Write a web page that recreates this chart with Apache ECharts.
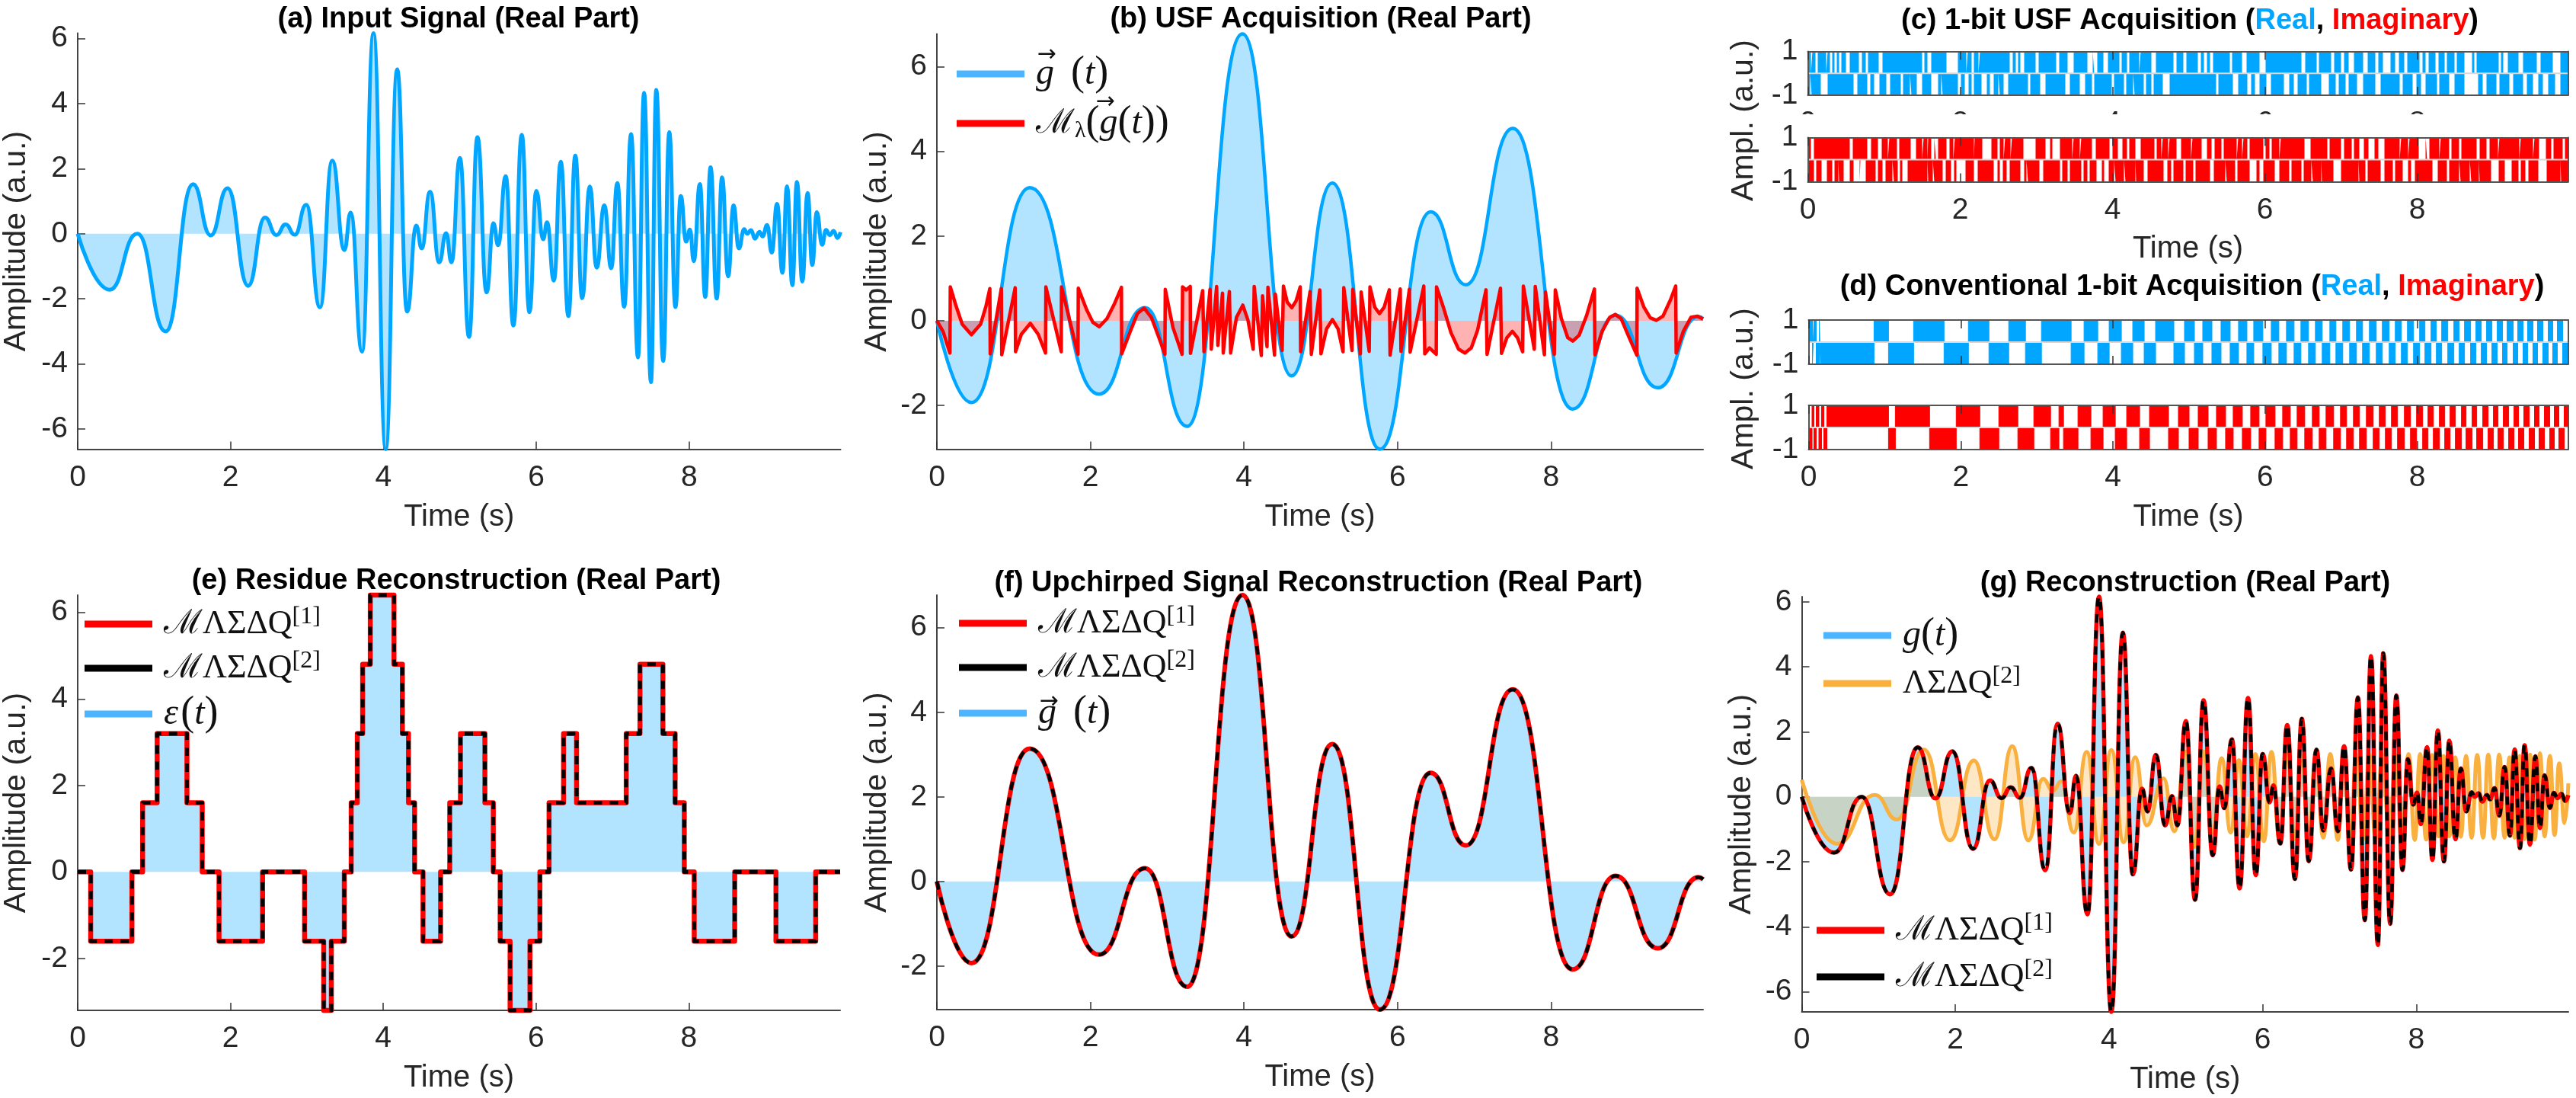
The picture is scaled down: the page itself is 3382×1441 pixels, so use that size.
<!DOCTYPE html>
<html>
<head>
<meta charset="utf-8">
<title>USF acquisition</title>
<style>html,body{margin:0;padding:0;background:#fff}#chart{width:3382px;height:1441px}</style>
<script src="https://cdn.jsdelivr.net/npm/echarts@6/dist/echarts.min.js"></script>
</head>
<body>
<div id="chart"></div>
<script>
var tickTimes = [0,2,4,6,8];
var endTime = 9.98;
var ticksWide = [-6,-4,-2,0,2,4,6];
var ticksUpchirp = [-2,0,2,4,6];
var ticksStrip = [-1,1];

//(a) and (g): input signal, extrema
var inputSignal = [[0,0],[.42,-1.72],[.78,0],[1.15,-3],[1.51,1.52],[1.74,-.05],[1.96,1.4],[2.23,-1.6],[2.45,.5],[2.6,-.04],[2.72,.29],[2.84,-.03],[2.99,.89],[3.17,-2.26],[3.33,2.25],[3.49,-.5],[3.57,.65],[3.72,-3.62],[3.87,6.16],[4.03,-6.62],[4.18,5.05],[4.31,-2.39],[4.43,.25],[4.5,-.45],[4.61,1.29],[4.73,-.88],[4.82,.02],[4.89,-.88],[5,2.33],[5.12,-3.17],[5.23,2.97],[5.35,-1.8],[5.44,.32],[5.5,-.35],[5.6,1.77],[5.7,-2.82],[5.81,3.04],[5.91,-2.41],[6,1.32],[6.09,-.17],[6.14,.35],[6.23,-1.44],[6.32,2.21],[6.42,-2.53],[6.51,2.4],[6.6,-1.98],[6.7,1.45],[6.79,-1.04],[6.89,.87],[6.98,-1.06],[7.06,1.56],[7.15,-2.24],[7.24,3.06],[7.33,-3.8],[7.41,4.33],[7.5,-4.56],[7.57,4.42],[7.66,-3.91],[7.74,3.12],[7.82,-2.25],[7.89,1.16],[7.96,-.24],[8.01,.13],[8.06,-.84],[8.14,1.53],[8.21,-1.94],[8.28,2.04],[8.36,-1.99],[8.43,1.73],[8.51,-1.31],[8.58,.87],[8.65,-.45],[8.72,.14],[8.76,0],[8.81,.11],[8.86,-.15],[8.92,.06],[8.96,-.08],[9.02,.27],[9.08,-.58],[9.15,.92],[9.22,-1.2],[9.28,1.46],[9.35,-1.58],[9.41,1.59],[9.48,-1.47],[9.55,1.25],[9.61,-.96],[9.67,.66],[9.74,-.34],[9.79,.12],[9.84,-.04],[9.89,.09],[9.94,-.13],[9.98,.05]];

//(b) and (f): upchirped signal
var upchirped = [[0,0],[.45,-1.93],[1.21,3.14],[2.11,-1.73],[2.71,.31],[3.26,-2.49],[3.98,6.77],[4.62,-1.3],[5.15,3.25],[5.77,-3.03],[6.43,2.57],[6.89,.85],[7.5,4.54],[8.28,-2.08],[8.84,.13],[9.39,-1.58],[9.92,.1],[9.98,.05]];

//(b): modulo samples
var folded = [[0,0],[.08,-.25],[.17,-.76],[.175,.8],[.25,.35],[.33,-.08],[.45,-.33],[.57,-.08],[.64,.35],[.69,.76],[.695,-.78],[.84,.76],[.845,-.8],[1.02,.78],[1.025,-.73],[1.1,-.32],[1.217,-.06],[1.32,-.32],[1.415,-.76],[1.42,.8],[1.62,-.73],[1.623,.8],[1.838,-.79],[1.842,.77],[1.951,.26],[2.033,-.04],[2.116,-.14],[2.215,.05],[2.315,.41],[2.404,.79],[2.407,-.78],[2.513,-.28],[2.612,.17],[2.7,.3],[2.794,.08],[2.893,-.4],[2.97,-.79],[2.975,.74],[3.075,-.16],[3.194,-.79],[3.2,.8],[3.247,.73],[3.3,.81],[3.303,-.77],[3.462,.71],[3.479,-.73],[3.558,.74],[3.574,-.67],[3.644,.81],[3.66,-.58],[3.72,.65],[3.73,-.76],[3.81,.69],[3.826,-.76],[3.902,.08],[3.985,.37],[4.051,.02],[4.12,-.67],[4.133,.81],[4.226,-.82],[4.242,.59],[4.3,-.61],[4.312,.79],[4.398,-.81],[4.408,.63],[4.497,-.7],[4.514,.82],[4.563,.44],[4.623,.31],[4.679,.47],[4.732,.8],[4.738,-.73],[4.861,.69],[4.877,-.79],[4.987,.73],[5.003,-.78],[5.076,-.19],[5.152,.03],[5.225,-.19],[5.29,-.73],[5.3,.78],[5.407,-.7],[5.417,.74],[5.516,-.78],[5.526,.68],[5.631,-.72],[5.641,.8],[5.704,.32],[5.764,.17],[5.826,.32],[5.893,.73],[5.903,-.81],[6.035,.75],[6.045,-.72],[6.154,.74],[6.164,-.74],[6.342,.82],[6.355,-.78],[6.415,-.64],[6.504,-.79],[6.508,.8],[6.597,.32],[6.696,-.28],[6.795,-.67],[6.878,-.76],[6.961,-.64],[7.043,-.22],[7.152,.73],[7.166,-.79],[7.341,.77],[7.354,-.77],[7.424,-.4],[7.496,-.25],[7.562,-.4],[7.629,-.73],[7.639,.82],[7.781,-.67],[7.794,.81],[7.913,-.8],[7.926,.68],[8.042,-.79],[8.055,.73],[8.134,.05],[8.217,-.4],[8.283,-.48],[8.366,-.34],[8.465,.14],[8.564,.75],[8.571,-.8],[8.664,-.25],[8.763,.08],[8.836,.15],[8.912,.05],[9.011,-.37],[9.117,-.81],[9.12,.77],[9.209,.32],[9.292,.07],[9.371,.01],[9.457,.11],[9.556,.5],[9.623,.82],[9.629,-.76],[9.722,-.25],[9.821,.08],[9.904,.11],[9.98,.04]];

//(e): residue steps, value holds from that time on
var residue = [[0,0],[.17,-1.6],[.71,0],[.85,1.6],[1.04,3.2],[1.43,1.6],[1.63,0],[1.85,-1.6],[2.42,0],[2.97,-1.6],[3.22,-3.2],[3.32,-1.6],[3.49,0],[3.58,1.6],[3.66,3.2],[3.73,4.8],[3.83,6.4],[4.14,4.8],[4.25,3.2],[4.33,1.6],[4.41,0],[4.52,-1.6],[4.75,0],[4.87,1.6],[5.01,3.2],[5.33,1.6],[5.44,0],[5.53,-1.6],[5.66,-3.2],[5.92,-1.6],[6.05,0],[6.17,1.6],[6.36,3.2],[6.53,1.6],[7.18,3.2],[7.36,4.8],[7.66,3.2],[7.82,1.6],[7.94,0],[8.07,-1.6],[8.6,0],[9.14,-1.6],[9.66,0],[9.98,0]];

//(g): first-order reconstruction
var sigmaDelta = [[0,.52],[.46,-1.45],[.95,.06],[1.24,-.7],[1.59,1.45],[1.93,-1.34],[2.24,1.12],[2.51,-1.31],[2.74,1.56],[2.95,-1.34],[3.14,.55],[3.27,.19],[3.38,.48],[3.54,-1.1],[3.71,1.38],[3.87,-1.45],[4.03,1.44],[4.19,-1.4],[4.34,1.22],[4.49,-.88],[4.71,.57],[4.85,-1.06],[5,1.4],[5.11,-1.55],[5.23,1.4],[5.35,-1.1],[5.466,1.19],[5.584,-1.1],[5.691,1.13],[5.795,-1.22],[5.906,1.32],[6.014,-1.37],[6.115,1.38],[6.22,-1.3],[6.32,1.3],[6.42,-1.3],[6.51,1.25],[6.6,-1.3],[6.69,1.25],[6.79,-1.26],[6.88,1.32],[6.98,-1.33],[7.05,1.3],[7.14,-1.3],[7.22,1.3],[7.31,-1.3],[7.39,1.3],[7.47,-1.3],[7.56,1.3],[7.65,-1.3],[7.73,1.3],[7.81,-1.3],[7.9,1.32],[7.98,-1.33],[8.05,1.32],[8.13,-1.32],[8.205,1.29],[8.29,-1.22],[8.356,1.26],[8.43,-1.22],[8.507,1.22],[8.58,-1.23],[8.648,1.26],[8.72,-1.26],[8.793,1.29],[8.87,-1.26],[8.937,1.3],[9.01,-1.28],[9.079,1.3],[9.15,-1.26],[9.213,1.22],[9.28,-1.26],[9.347,1.26],[9.41,-1.3],[9.482,1.3],[9.54,-1.32],[9.61,1.34],[9.67,-1.22],[9.74,1.26],[9.8,-1.18],[9.86,1.03],[9.93,-.81],[9.98,.41]];

//(c): white gaps per row, start,end pairs
var gapsRealTop = [.04,.06,.10,.13,.24,.26,.29,.32,.35,.38,.41,.44,.50,.55,.67,.71,.76,.79,.93,.98,1.50,1.53,1.57,1.62,1.82,1.97,2.08,2.10,2.15,2.18,2.24,2.26,2.65,2.69,2.73,2.76,2.79,2.84,2.99,3.03,3.26,3.30,3.41,3.49,3.67,3.74,3.76,3.80,3.88,3.94,4.09,4.12,4.19,4.22,4.35,4.37,4.51,4.57,4.80,4.84,4.93,4.97,5.12,5.16,5.20,5.24,5.28,5.32,5.54,5.57,5.70,5.76,5.93,6.01,6.48,6.53,6.68,6.71,6.87,6.91,7.00,7.04,7.10,7.17,7.29,7.35,7.45,7.49,7.55,7.65,7.71,7.76,7.83,7.87,8.03,8.07,8.11,8.15,8.24,8.28,8.36,8.39,8.49,8.52,8.62,8.72,8.75,8.78,9.07,9.10,9.13,9.19,9.33,9.39,9.57,9.62,9.78,9.88];
var gapsRealBottom = [.03,.05,.17,.26,.60,.65,.78,.82,.87,.94,1.03,1.08,1.22,1.25,1.34,1.36,1.43,1.50,1.62,1.71,1.75,1.77,1.97,2.01,2.06,2.11,2.15,2.18,2.28,2.35,2.39,2.44,2.50,2.52,2.57,2.63,2.89,2.92,3.05,3.12,3.38,3.44,3.57,3.64,3.73,3.76,3.99,4.02,4.15,4.18,4.27,4.29,4.41,4.44,4.51,4.54,4.66,4.75,5.36,5.39,5.58,5.65,5.77,5.82,5.87,5.93,6.02,6.08,6.25,6.32,6.38,6.43,6.55,6.58,6.74,6.84,6.93,6.97,7.06,7.10,7.21,7.29,7.45,7.52,7.77,7.81,7.94,7.99,8.05,8.11,8.26,8.29,8.42,8.49,8.62,8.80,8.86,8.91,9.04,9.08,9.21,9.26,9.39,9.44,9.52,9.59,9.65,9.72,9.81,9.88];
var gapsImagTop = [.04,.08,.55,.59,.78,.83,.92,.97,1.05,1.07,1.17,1.20,1.35,1.42,1.50,1.52,1.57,1.58,1.62,1.66,1.68,1.71,1.82,1.86,1.91,1.93,2.18,2.19,2.29,2.41,2.49,2.52,2.57,2.59,2.66,2.68,2.83,2.99,3.12,3.18,3.21,3.31,3.47,3.49,3.57,3.59,3.73,3.78,3.96,4.00,4.07,4.13,4.19,4.22,4.30,4.37,4.55,4.58,4.64,4.66,4.73,4.75,4.84,4.90,5.03,5.05,5.17,5.24,5.30,5.34,5.43,5.46,5.63,5.65,5.70,5.72,5.77,5.80,5.98,6.01,6.06,6.09,6.19,6.21,6.52,6.60,6.82,6.85,7.00,7.04,7.14,7.17,7.24,7.30,7.36,7.44,7.49,7.57,7.77,7.79,7.88,7.90,8.02,8.11,8.13,8.16,8.29,8.31,8.42,8.45,8.55,8.58,8.78,8.82,8.91,8.95,9.06,9.08,9.34,9.36,9.52,9.54,9.60,9.69,9.76,9.79,9.91,9.94];
var gapsImagBottom = [.08,.11,.18,.25,.32,.35,.40,.41,.47,.55,.60,.68,.69,.76,.89,.92,.98,1.02,1.11,1.13,1.18,1.21,1.24,1.31,1.57,1.58,1.64,1.66,1.77,1.81,1.88,1.92,1.95,2.07,2.18,2.23,2.44,2.49,2.52,2.56,2.61,2.65,2.79,2.84,2.87,2.89,3.04,3.09,3.31,3.34,3.41,3.44,3.59,3.62,3.67,3.70,3.79,3.86,3.89,3.95,4.02,4.04,4.15,4.17,4.30,4.31,4.41,4.46,4.67,4.72,4.77,4.80,4.93,4.96,5.06,5.09,5.28,5.33,5.48,5.50,5.61,5.64,5.80,5.89,5.93,5.98,6.13,6.19,6.32,6.35,6.48,6.51,6.61,6.63,6.74,6.75,6.90,7.00,7.23,7.24,7.32,7.35,7.52,7.57,7.68,7.71,7.81,7.88,7.92,7.97,8.20,8.27,8.39,8.42,8.55,8.57,8.69,8.71,8.81,8.82,8.97,9.07,9.15,9.24,9.33,9.36,9.42,9.46,9.59,9.70,9.88,9.89];

//(d): times where the sign flips, both start at +1
var flipsReal = [.05,.07,.10,.14,.155,.86,1.05,1.38,1.78,2.10,2.37,2.63,2.85,3.06,3.45,3.62,3.80,3.95,4.11,4.26,4.41,4.56,4.80,4.94,5.07,5.18,5.30,5.42,5.54,5.65,5.76,5.85,5.97,6.08,6.18,6.28,6.38,6.47,6.57,6.66,6.75,6.85,6.93,7.02,7.11,7.20,7.28,7.37,7.46,7.54,7.63,7.71,7.79,7.87,7.95,8.03,8.10,8.18,8.25,8.32,8.40,8.48,8.55,8.62,8.70,8.77,8.84,8.91,8.98,9.05,9.12,9.18,9.26,9.32,9.39,9.45,9.52,9.58,9.65,9.72,9.78,9.84,9.91];
var flipsImag = [.02,.045,.07,.10,.135,.17,.20,.24,1.05,1.14,1.59,1.94,2.25,2.50,2.75,2.96,3.18,3.29,3.35,3.54,3.71,3.87,4.03,4.18,4.35,4.48,4.73,4.86,5.0,5.12,5.25,5.36,5.48,5.58,5.70,5.81,5.92,6.01,6.13,6.23,6.33,6.42,6.52,6.62,6.71,6.80,6.90,6.99,7.07,7.16,7.24,7.33,7.42,7.50,7.58,7.66,7.74,7.83,7.91,7.99,8.07,8.14,8.21,8.29,8.36,8.43,8.50,8.58,8.64,8.72,8.78,8.86,8.93,9.0,9.06,9.13,9.20,9.27,9.33,9.40,9.47,9.54,9.60,9.67,9.74,9.80,9.86,9.93];

var BLUE = '#00A6FF', RED = '#FF0000', BLACK = '#000000', ORANGE = '#F9B03F', SWATCH_BLUE = '#4DB5FF';
var TEXT = '#262626';
var SANS = 'Liberation Sans';
var DASH = [11,10];
var TITLE_SIZE = 38;

var legendLabels = {
    bG: '{i|g}{n|  }{p|(}{i|t}{p|)}',
    bM: '{n|\u2133}{l|\u03BB}{p|(}{i|g}{p|(}{i|t}{p|))}',
    eRed: '{n|\u2133\u039B\u03A3\u0394Q}{s|[1]}',
    eBlack: '{n|\u2133\u039B\u03A3\u0394Q}{s|[2]}',
    eBlue: '{i|\u03B5} {p|(}{i|t}{p|)}',
    fRed: '{n|\u2133\u039B\u03A3\u0394Q}{s|[1]}',
    fBlack: '{n|\u2133\u039B\u03A3\u0394Q}{s|[2]}',
    fBlue: '{i|g}{n|  }{p|(}{i|t}{p|)}',
    gBlue: '{i|g}{p|(}{i|t}{p|)}',
    gOrange: '{n|\u039B\u03A3\u0394Q}{s|[2]}',
    gRed: '{n|\u2133\u039B\u03A3\u0394Q}{s|[1]}',
    gBlack: '{n|\u2133\u039B\u03A3\u0394Q}{s|[2]}'
};

var option = {
    animation: false,
    backgroundColor: '#fff',
    title: [],
    grid: [],
    xAxis: [],
    yAxis: [],
    series: [],
    legend: [],
    graphic: []
};

function addTitle(text, x, y, rich) {
    option.title.push({
        text: text,
        left: x,
        top: y,
        textAlign: 'center',
        textVerticalAlign: 'middle',
        textStyle: {fontFamily: SANS, fontWeight: 'bold', fontSize: TITLE_SIZE, color: '#000', rich: rich}
    });
}

//网格和坐标轴
function addAxes(box, opt) {
    var gridIndex = option.grid.length;
    option.grid.push({left: box[0], top: box[1], width: box[2], height: box[3], show: false});
    var axisZ = opt.boxed ? 5 : 0;
    var lineStyle = {color: opt.boxed ? '#555' : '#444', width: 2};
    var tickStyle = {color: '#333', width: 1.5};
    var xIndex = option.xAxis.length, yIndex = option.yAxis.length;
    option.xAxis.push({
        gridIndex: gridIndex, type: 'value', min: 0, max: endTime, z: axisZ,
        name: opt.xName || '', nameLocation: 'middle', nameGap: 69,
        nameTextStyle: {fontFamily: SANS, fontSize: 40, color: TEXT},
        axisLine: {show: true, onZero: false, lineStyle: lineStyle},
        axisTick: {show: true, inside: true, length: opt.boxed ? 11 : 10, lineStyle: tickStyle, customValues: tickTimes},
        axisLabel: {show: opt.showX, margin: 18, fontFamily: SANS, fontSize: 39, color: TEXT, customValues: tickTimes},
        splitLine: {show: false}
    });
    option.yAxis.push({
        gridIndex: gridIndex, type: 'value', min: opt.yMin, max: opt.yMax, z: axisZ,
        name: opt.yName || '', nameLocation: 'middle', nameGap: opt.yGap || 60,
        nameTextStyle: {fontFamily: SANS, fontSize: 41, color: TEXT},
        axisLine: {show: true, onZero: false, lineStyle: lineStyle},
        axisTick: {show: !opt.boxed, inside: true, length: 10, lineStyle: tickStyle, customValues: opt.yTicks},
        axisLabel: {show: true, margin: 13, fontFamily: SANS, fontSize: 39, color: TEXT, customValues: opt.yTicks},
        splitLine: {show: false}
    });
    if (opt.boxed) {
        option.xAxis.push({
            gridIndex: gridIndex, type: 'value', position: 'top', min: 0, max: endTime, z: axisZ,
            axisLine: {show: true, onZero: false, lineStyle: lineStyle},
            axisTick: {show: true, inside: true, length: 11, lineStyle: tickStyle, customValues: tickTimes},
            axisLabel: {show: false},
            splitLine: {show: false}
        });
        option.yAxis.push({
            gridIndex: gridIndex, type: 'value', position: 'right', min: opt.yMin, max: opt.yMax, z: axisZ,
            axisLine: {show: true, onZero: false, lineStyle: lineStyle},
            axisTick: {show: false},
            axisLabel: {show: false},
            splitLine: {show: false}
        });
    }
    return {x: xIndex, y: yIndex};
}

function addLine(axes, name, data, style) {
    var s = {
        name: name, type: 'line', data: data, xAxisIndex: axes.x, yAxisIndex: axes.y,
        showSymbol: false, symbol: 'none', silent: true, clip: false, z: style.z || 2,
        lineStyle: {color: style.color, width: style.width || 4, type: style.dash || 'solid', join: 'round'},
        itemStyle: {color: style.color}
    };
    if (style.smooth) {
        s.smooth = 0.5;
        s.smoothMonotone = 'x';
    }
    if (style.step) {
        s.step = 'end';
    }
    if (style.area) {
        s.areaStyle = {color: style.area, opacity: style.areaOpacity === undefined ? 0.3 : style.areaOpacity};
    }
    option.series.push(s);
}

function addLegend(left, top, items, gap) {
    var names = [];
    for (var i = 0; i < items.length; i++) {
        names.push({name: items[i][0], itemStyle: {color: items[i][1], borderWidth: 0}, icon: 'rect'});
    }
    option.legend.push({
        left: left, top: top, orient: 'vertical', data: names, selectedMode: false,
        itemWidth: 89, itemHeight: 9, itemGap: gap, align: 'left',
        formatter: function (n) { return legendLabels[n]; },
        textStyle: {
            padding: [0, 0, 0, 10],
            rich: {
                n: {fontFamily: 'Liberation Serif', fontSize: 44, lineHeight: 50, color: '#111'},
                p: {fontFamily: 'Liberation Serif', fontSize: 54, lineHeight: 50, color: '#111'},
                i: {fontFamily: 'Liberation Serif', fontStyle: 'italic', fontSize: 48, lineHeight: 50, color: '#111'},
                l: {fontFamily: 'Liberation Serif', fontSize: 30, lineHeight: 50, verticalAlign: 'bottom', color: '#111'},
                s: {fontFamily: 'Liberation Serif', fontSize: 32, lineHeight: 50, verticalAlign: 'top', color: '#111'}
            }
        }
    });
}

//向量箭头盖在图例的 g 上面
function addVectorArrow(x, y) {
    option.graphic.push({
        type: 'text', x: x, y: y, silent: true, z: 20,
        style: {text: '\u2192', fontFamily: 'DejaVu Sans', fontSize: 30, fill: '#111', align: 'center', verticalAlign: 'middle'}
    });
}

//白色间隙转成一行折线
function rowFromGaps(gaps, level) {
    var pts = [[0, level]];
    for (var i = 0; i < gaps.length; i += 2) {
        pts.push([gaps[i], level], [gaps[i], 0], [gaps[i + 1], 0], [gaps[i + 1], level]);
    }
    pts.push([endTime, level]);
    return pts;
}

function signFromFlips(flips) {
    var pts = [[0, 1]], sign = 1;
    for (var i = 0; i < flips.length; i++) {
        sign = -sign;
        pts.push([flips[i], sign]);
    }
    pts.push([endTime, sign]);
    return pts;
}

function addZeroLine(axes) {
    option.series.push({
        type: 'line', data: [[0, 0], [endTime, 0]], xAxisIndex: axes.x, yAxisIndex: axes.y,
        showSymbol: false, silent: true, z: 4,
        lineStyle: {color: '#d8d8d8', width: 2}
    });
}

function addGapStrip(box, color, topGaps, bottomGaps, xName, showX) {
    var axes = addAxes(box, {boxed: true, yMin: -1, yMax: 1, yTicks: ticksStrip, showX: showX, xName: xName});
    option.series.push({
        type: 'line', data: rowFromGaps(topGaps, 1), xAxisIndex: axes.x, yAxisIndex: axes.y, showSymbol: false, silent: true,
        lineStyle: {width: 0}, areaStyle: {color: color, opacity: 1}
    });
    option.series.push({
        type: 'line', data: rowFromGaps(bottomGaps, -1), xAxisIndex: axes.x, yAxisIndex: axes.y, showSymbol: false, silent: true,
        lineStyle: {width: 0}, areaStyle: {color: color, opacity: 1}
    });
    addZeroLine(axes);
}

function addFlipStrip(box, color, flips, xName) {
    var axes = addAxes(box, {boxed: true, yMin: -1, yMax: 1, yTicks: ticksStrip, showX: !!xName, xName: xName});
    option.series.push({
        type: 'line', step: 'end', data: signFromFlips(flips), xAxisIndex: axes.x, yAxisIndex: axes.y, showSymbol: false, silent: true,
        lineStyle: {width: 1, color: color}, areaStyle: {color: color, opacity: 1}
    });
    addZeroLine(axes);
}

function addSideLabel(x, y, text) {
    option.graphic.push({
        type: 'text', x: x, y: y, rotation: Math.PI / 2, silent: true, z: 20,
        style: {text: text, fontFamily: SANS, fontSize: 41, fill: TEXT, align: 'center', verticalAlign: 'middle'}
    });
}

//(a)
addTitle('(a) Input Signal (Real Part)', 597, 21);
var axA = addAxes([97, 43.6, 1006.5, 546], {yMin: -6.62, yMax: 6.16, yTicks: ticksWide, showX: true, xName: 'Time (s)', yName: 'Amplitude (a.u.)'});
addLine(axA, 'aG', inputSignal, {color: BLUE, width: 5, smooth: true, area: BLUE});

//(b)
addTitle('(b) USF Acquisition (Real Part)', 1729, 21);
var axB = addAxes([1230, 44.5, 1006, 545], {yMin: -3.03, yMax: 6.77, yTicks: ticksUpchirp, showX: true, xName: 'Time (s)', yName: 'Amplitude (a.u.)', yGap: 58});
addLine(axB, 'bG', upchirped, {color: BLUE, width: 4.5, smooth: true, area: BLUE});
addLine(axB, 'bM', folded, {color: RED, width: 4.5, area: RED});
addLegend(1251, 65, [['bG', SWATCH_BLUE], ['bM', RED]], 11);
addVectorArrow(1374, 72);
addVectorArrow(1451, 134);

//(c)
var richTitle = {
    b: {fontFamily: SANS, fontWeight: 'bold', fontSize: TITLE_SIZE, color: '#000'},
    r: {fontFamily: SANS, fontWeight: 'bold', fontSize: TITLE_SIZE, color: BLUE},
    m: {fontFamily: SANS, fontWeight: 'bold', fontSize: TITLE_SIZE, color: RED}
};
addTitle('{b|(c) 1-bit USF Acquisition (}{r|Real}{b|, }{m|Imaginary}{b|)}', 2870, 23, richTitle);
addGapStrip([2373.5, 67.5, 998, 57.5], BLUE, gapsRealTop, gapsRealBottom, '', true);
//上排的刻度数字被第二个小图盖住，只露出顶部
option.graphic.push({type: 'rect', silent: true, z: 10, shape: {x: 2361, y: 150, width: 1021, height: 28}, style: {fill: '#fff'}});
addGapStrip([2373.5, 180.4, 998, 58], RED, gapsImagTop, gapsImagBottom, 'Time (s)', true);
addSideLabel(2290, 158, 'Ampl. (a.u.)');

//(d)
addTitle('{b|(d) Conventional 1-bit Acquisition (}{r|Real}{b|, }{m|Imaginary}{b|)}', 2873, 372, richTitle);
addFlipStrip([2374.5, 420, 997, 58], BLUE, flipsReal);
addFlipStrip([2374.5, 532, 997, 58], RED, flipsImag, 'Time (s)');
addSideLabel(2290, 510, 'Ampl. (a.u.)');

//(e)
addTitle('(e) Residue Reconstruction (Real Part)', 594, 758);
var axE = addAxes([97, 781, 1006, 545], {yMin: -3.2, yMax: 6.4, yTicks: ticksUpchirp, showX: true, xName: 'Time (s)', yName: 'Amplitude (a.u.)'});
addLine(axE, 'eBlue', residue, {color: BLUE, width: 3, step: true, area: BLUE});
addLine(axE, 'eRed', residue, {color: RED, width: 6.5, step: true});
addLine(axE, 'eBlack', residue, {color: BLACK, width: 5, step: true, dash: DASH});
addLegend(106, 789, [['eRed', RED], ['eBlack', BLACK], ['eBlue', SWATCH_BLUE]], 11);

//(f)
addTitle('(f) Upchirped Signal Reconstruction (Real Part)', 1726, 761);
var axF = addAxes([1230, 781, 1006, 544], {yMin: -3.03, yMax: 6.77, yTicks: ticksUpchirp, showX: true, xName: 'Time (s)', yName: 'Amplitude (a.u.)', yGap: 58});
addLine(axF, 'fBlue', upchirped, {color: BLUE, width: 3, smooth: true, area: BLUE});
addLine(axF, 'fRed', upchirped, {color: RED, width: 6, smooth: true});
addLine(axF, 'fBlack', upchirped, {color: BLACK, width: 4.5, smooth: true, dash: DASH});
addLegend(1254, 788, [['fRed', RED], ['fBlack', BLACK], ['fBlue', SWATCH_BLUE]], 11);
addVectorArrow(1377, 921);

//(g)
addTitle('(g) Reconstruction (Real Part)', 2864, 761);
var axG = addAxes([2365.5, 783, 1006.5, 545], {yMin: -6.62, yMax: 6.16, yTicks: ticksWide, showX: true, xName: 'Time (s)', yName: 'Amplitude (a.u.)', yGap: 58});
addLine(axG, 'gBlue', inputSignal, {color: BLUE, width: 3, smooth: true, area: BLUE});
addLine(axG, 'gOrange', sigmaDelta, {color: ORANGE, width: 5, smooth: true, area: ORANGE});
addLine(axG, 'gRed', inputSignal, {color: RED, width: 5.5, smooth: true});
addLine(axG, 'gBlack', inputSignal, {color: BLACK, width: 4.5, smooth: true, dash: DASH});
addLegend(2389, 802, [['gBlue', SWATCH_BLUE], ['gOrange', ORANGE]], 11);
addLegend(2380, 1191, [['gRed', RED], ['gBlack', BLACK]], 14);

var chart = echarts.init(document.getElementById('chart'), null, {renderer: 'canvas'});
chart.setOption(option);
</script>
</body>
</html>
